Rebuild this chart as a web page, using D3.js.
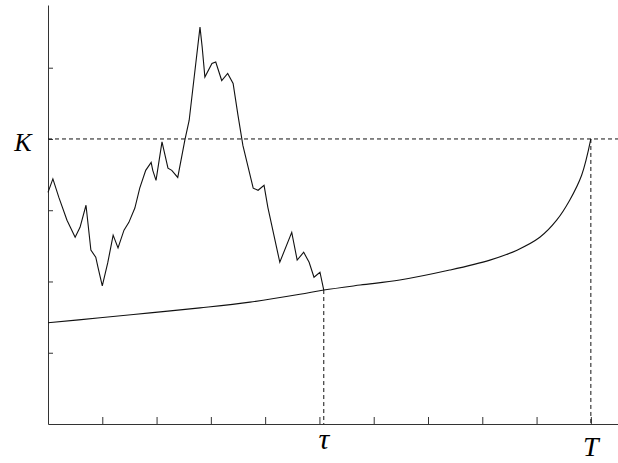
<!DOCTYPE html>
<html>
<head>
<meta charset="utf-8">
<script src="https://cdn.jsdelivr.net/npm/d3@7"></script>
<style>
  body { margin: 0; background: #fff; }
</style>
</head>
<body>
<div id="chart"></div>
<script>
// Data
const strike = 4
const tau = 5.08
const maturity = 10

const pathT = [0, 0.09, 0.20, 0.35, 0.50, 0.59, 0.70, 0.79, 0.88, 0.92, 1.00, 1.10, 1.20, 1.29, 1.40, 1.49,
  1.60, 1.69, 1.80, 1.90, 1.93, 1.99, 2.10, 2.21, 2.28, 2.39, 2.52, 2.60, 2.80, 2.84, 2.89, 3.02, 3.09,
  3.20, 3.31, 3.41, 3.50, 3.59, 3.78, 3.87, 3.98, 4.05, 4.27, 4.49, 4.59, 4.71, 4.81, 4.90, 5.01, 5.08]
const pathS = [3.25, 3.44, 3.18, 2.86, 2.62, 2.76, 3.07, 2.44, 2.34, 2.20, 1.94, 2.26, 2.65, 2.47, 2.72, 2.83,
  3.03, 3.31, 3.56, 3.67, 3.56, 3.42, 3.96, 3.59, 3.56, 3.46, 3.98, 4.26, 5.57, 5.29, 4.87, 5.06, 5.08,
  4.82, 4.92, 4.78, 4.33, 3.91, 3.31, 3.28, 3.35, 3.04, 2.27, 2.69, 2.30, 2.41, 2.27, 2.06, 2.13, 1.88]

const boundaryT = [0, 0.96, 1.88, 2.80, 3.72, 4.64, 5.08, 5.75, 6.48, 7.40, 8.14, 8.64, 9.06, 9.37, 9.61, 9.83, 10]
const boundaryS = [1.42, 1.49, 1.56, 1.63, 1.71, 1.82, 1.88, 1.95, 2.02, 2.16, 2.30, 2.44, 2.62, 2.86, 3.14, 3.49, 4]

const xTicks = [1, 2, 3, 4, 5, 6, 7, 8, 9, 10]
const yTicks = [1, 2, 3, 4, 5]

// Dimensions
const dimensions = {
  width: 618,
  height: 463,
  left: 48,
  top: 5,
  bottom: 424,
}

const svg = d3.select('#chart')
  .append('svg')
  .attr('width', dimensions.width)
  .attr('height', dimensions.height)

// Scales
const xScale = d3.scaleLinear()
  .domain([0, 10.5])
  .range([dimensions.left, dimensions.width])

const yScale = d3.scaleLinear()
  .domain([0, 5.88])
  .range([dimensions.bottom, dimensions.top])

// Axes
const xAxis = d3.axisBottom(xScale)
  .tickValues(xTicks)
  .tickSize(-7)
  .tickSizeOuter(0)
  .tickFormat('')

svg.append('g')
  .attr('transform', `translate(0, ${dimensions.bottom})`)
  .call(xAxis)
  .call(g => g.selectAll('path, line').attr('stroke', '#333'))

const yAxis = d3.axisLeft(yScale)
  .tickValues(yTicks)
  .tickSize(-5)
  .tickSizeOuter(0)
  .tickFormat('')

svg.append('g')
  .attr('transform', `translate(${dimensions.left}, 0)`)
  .call(yAxis)
  .call(g => g.selectAll('path, line').attr('stroke', '#333'))

// Dashed guides
const dash = '4,3'
svg.append('line')
  .attr('x1', xScale(0)).attr('x2', dimensions.width)
  .attr('y1', yScale(strike)).attr('y2', yScale(strike))
  .attr('stroke', '#111').attr('stroke-dasharray', dash)

svg.append('line')
  .attr('x1', xScale(tau)).attr('x2', xScale(tau))
  .attr('y1', yScale(boundaryS[boundaryT.indexOf(tau)])).attr('y2', yScale(0))
  .attr('stroke', '#111').attr('stroke-dasharray', dash)

svg.append('line')
  .attr('x1', xScale(maturity)).attr('x2', xScale(maturity))
  .attr('y1', yScale(strike)).attr('y2', yScale(0))
  .attr('stroke', '#111').attr('stroke-dasharray', dash)

// Lines
const pathData = pathT.map((t, i) => [t, pathS[i]])
const boundaryData = boundaryT.map((t, i) => [t, boundaryS[i]])

const line = d3.line()
  .x(d => xScale(d[0]))
  .y(d => yScale(d[1]))

svg.append('path')
  .datum(pathData)
  .attr('d', line)
  .attr('fill', 'none')
  .attr('stroke', '#111')
  .attr('stroke-width', 1.1)

svg.append('path')
  .datum(boundaryData)
  .attr('d', line.curve(d3.curveCatmullRom))
  .attr('fill', 'none')
  .attr('stroke', '#111')
  .attr('stroke-width', 1.1)

// Labels
const labelFont = '"Liberation Serif", "DejaVu Serif", serif'
svg.append('text')
  .attr('x', 23).attr('y', 151)
  .attr('text-anchor', 'middle')
  .style('font-family', labelFont)
  .style('font-style', 'italic')
  .style('font-size', '26px')
  .text('K')

svg.append('text')
  .attr('x', xScale(tau)).attr('y', 449)
  .attr('text-anchor', 'middle')
  .style('font-family', labelFont)
  .style('font-style', 'italic')
  .style('font-size', '30px')
  .text('τ')

svg.append('text')
  .attr('x', xScale(maturity)).attr('y', 456)
  .attr('text-anchor', 'middle')
  .style('font-family', labelFont)
  .style('font-style', 'italic')
  .style('font-size', '28px')
  .text('T')
</script>
</body>
</html>
